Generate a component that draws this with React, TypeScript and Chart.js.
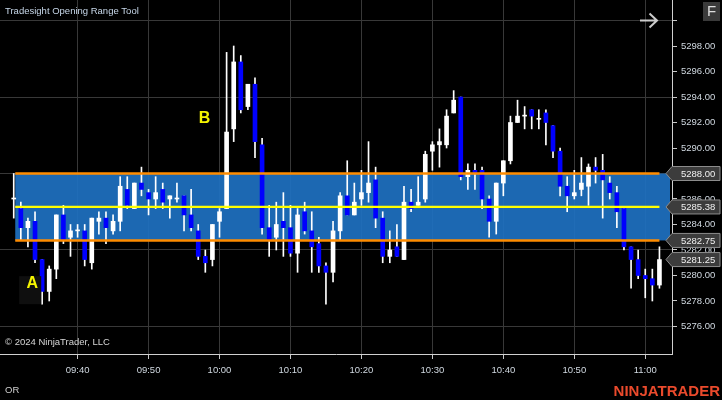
import React, { useEffect, useRef } from 'react';
import { Chart, registerables } from 'chart.js';

Chart.register(...registerables);

// ---- data -------------------------------------------------------------
const times = [
  '09:31', '09:32', '09:33', '09:34', '09:35', '09:36', '09:37', '09:38', '09:39', '09:40',
  '09:41', '09:42', '09:43', '09:44', '09:45', '09:46', '09:47', '09:48', '09:49', '09:50',
  '09:51', '09:52', '09:53', '09:54', '09:55', '09:56', '09:57', '09:58', '09:59', '10:00',
  '10:01', '10:02', '10:03', '10:04', '10:05', '10:06', '10:07', '10:08', '10:09', '10:10',
  '10:11', '10:12', '10:13', '10:14', '10:15', '10:16', '10:17', '10:18', '10:19', '10:20',
  '10:21', '10:22', '10:23', '10:24', '10:25', '10:26', '10:27', '10:28', '10:29', '10:30',
  '10:31', '10:32', '10:33', '10:34', '10:35', '10:36', '10:37', '10:38', '10:39', '10:40',
  '10:41', '10:42', '10:43', '10:44', '10:45', '10:46', '10:47', '10:48', '10:49', '10:50',
  '10:51', '10:52', '10:53', '10:54', '10:55', '10:56', '10:57', '10:58', '10:59', '11:00',
  '11:01', '11:02',
];

const opens = [
  5286, 5285.25, 5283.75, 5284.25, 5281.25, 5278.75, 5280.5, 5284.75, 5283, 5283.5,
  5283.5, 5281, 5284.25, 5284.5, 5283.5, 5284.25, 5286.75, 5285.25, 5287.25, 5286.5,
  5286, 5286.75, 5286, 5286, 5286.25, 5284.75, 5283.5, 5281.5, 5281.25, 5284.25,
  5285.25, 5291.5, 5296.75, 5293.25, 5295, 5290.25, 5283.75, 5283, 5284.25, 5283.75,
  5281.75, 5285, 5283.5, 5282.5, 5280.75, 5280.25, 5283.5, 5286.25, 5284.75, 5286,
  5286.5, 5287.5, 5284.5, 5281.5, 5282.25, 5281.25, 5285.75, 5285.5, 5286, 5289.75,
  5290.25, 5290.25, 5292.75, 5294, 5287.75, 5288.25, 5288.25, 5286, 5284.25, 5287.25,
  5289, 5292, 5292.5, 5293, 5292.25, 5292.75, 5291.75, 5289.75, 5287, 5286.25,
  5286.75, 5287, 5288.5, 5288.25, 5287.25, 5286.5, 5285.25, 5282.25, 5281.25, 5280,
  5279.75, 5279.25,
];
const highs = [
  5288, 5285.75, 5284.5, 5285, 5281.25, 5280.75, 5284.75, 5285.5, 5284, 5284,
  5284, 5284.5, 5285, 5285, 5284.75, 5287.75, 5287.75, 5287.25, 5288.5, 5286.75,
  5287.75, 5287.25, 5286.25, 5287.25, 5286.25, 5286.75, 5284, 5282, 5284, 5285.25,
  5297.5, 5298, 5297.25, 5295, 5295.5, 5290.75, 5285.5, 5285.75, 5286.5, 5285.5,
  5285.25, 5285.75, 5285, 5283, 5281, 5284.25, 5286.5, 5289, 5287.25, 5288.25,
  5290.5, 5288.5, 5285, 5283.5, 5284, 5287, 5286.75, 5287.75, 5289.75, 5290.5,
  5291.5, 5293, 5294.5, 5294, 5288.75, 5288.75, 5288.5, 5286.25, 5287.25, 5289,
  5292.5, 5293.75, 5293.25, 5293, 5293, 5293, 5291.75, 5290, 5287.75, 5288.25,
  5289.25, 5288.75, 5289.25, 5289.5, 5287.75, 5287, 5285.25, 5282.25, 5282, 5280.5,
  5280.5, 5282.25,
];
const lows = [
  5284.5, 5282.75, 5282.25, 5281, 5277.75, 5278, 5279.75, 5282.5, 5281.5, 5283,
  5280.75, 5280.5, 5283.25, 5282.5, 5283.25, 5283.5, 5285.25, 5285.25, 5286.25, 5284.75,
  5285.25, 5285.25, 5284.5, 5285.75, 5283.5, 5283.5, 5281.25, 5280.25, 5280.75, 5283,
  5285.25, 5290.5, 5292.75, 5293, 5289.25, 5283.25, 5281.5, 5282, 5281.5, 5281.5,
  5280.25, 5283.25, 5280.25, 5280.25, 5277.75, 5279.5, 5282.75, 5284.75, 5284.75, 5285.5,
  5285.75, 5283.75, 5281, 5281, 5281.5, 5281.25, 5285, 5285.5, 5285.75, 5288.25,
  5288.5, 5290, 5292.75, 5287.5, 5286.75, 5286.75, 5285.25, 5283, 5283.25, 5286.25,
  5288.75, 5292, 5291.5, 5291.5, 5291.5, 5290.25, 5289.25, 5286.25, 5285, 5286,
  5286.25, 5285.5, 5287.25, 5284.5, 5286, 5283.75, 5282, 5279, 5279.75, 5278.25,
  5278, 5279,
];
const closes = [
  5286, 5283.75, 5284.25, 5281.25, 5278.75, 5280.5, 5284.75, 5282.75, 5283.5, 5283.5,
  5281.25, 5284.5, 5284.5, 5283.75, 5284.25, 5287, 5285.5, 5287.25, 5286.75, 5286,
  5286.5, 5285.75, 5286.25, 5286, 5284.75, 5283.75, 5281.5, 5281, 5284, 5285,
  5291.25, 5296.75, 5293, 5295, 5290.5, 5283.75, 5282.75, 5284, 5283.75, 5281.75,
  5284.75, 5283.5, 5282.25, 5280.75, 5280.25, 5283.5, 5286.25, 5284.75, 5285.75, 5286.5,
  5287.25, 5284.5, 5281.5, 5282, 5281.5, 5285.75, 5285.25, 5285.75, 5289.5, 5290.25,
  5290.5, 5292.5, 5293.75, 5287.75, 5288.25, 5288, 5286, 5284.25, 5287.25, 5289,
  5292, 5292.5, 5292.5, 5292.5, 5292.25, 5292, 5289.75, 5287, 5286.25, 5286.5,
  5287.25, 5288.5, 5288.25, 5287.5, 5286.5, 5285, 5282.25, 5281.25, 5280, 5279.75,
  5279.25, 5281.25,
];

const xTickLabels = ['09:40', '09:50', '10:00', '10:10', '10:20', '10:30', '10:40', '10:50', '11:00'];
const yTicks = [5276, 5278, 5280, 5282, 5284, 5286, 5288, 5290, 5292, 5294, 5296, 5298, 5300];
const yGridValues = [5276, 5282, 5288, 5294, 5300];
const yHiddenLabels = [5300];

const orHigh = 5288;
const orLow = 5282.75;

const annotations = [
  { text: 'A', time: '09:33.6', price: 5279.4, boxed: true },
  { text: 'B', time: '09:57.9', price: 5292.3, boxed: false },
];

// ---- helpers ----------------------------------------------------------
const toMinutes = (t: string) => {
  const [h, m] = t.split(':').map(Number);
  return (h - 9) * 60 + m - 30;
};
const minutes = times.map(toMinutes);
const xTickValues = xTickLabels.map(toMinutes);

const FONT = '"Liberation Sans", Arial, sans-serif';
const BLUE = '#0000ff';
const WHITE = '#ffffff';
const X_MIN = -0.936;
const X_MAX = 93.77;
const Y_MAX = 5301.608;
const Y_MIN = 5273.843;

const candleColors = opens.map((o, i) => (closes[i] < o ? BLUE : WHITE));

const bgPlugin = {
  id: 'bg',
  beforeDraw(chart: any) {
    const { ctx, width, height } = chart;
    ctx.save();
    ctx.fillStyle = '#000';
    ctx.fillRect(0, 0, width, height);
    ctx.restore();
  },
};

const orPlugin = {
  id: 'orBox',
  beforeDatasetsDraw(chart: any) {
    const { ctx, chartArea, scales } = chart;
    const x = scales.x, y = scales.y;
    const x0 = x.getPixelForValue(minutes[0]) + 1.5;
    const yHi = y.getPixelForValue(orHigh);
    const yLo = y.getPixelForValue(orLow);
    ctx.save();
    ctx.fillStyle = 'rgba(30,112,192,0.93)';
    ctx.fillRect(x0, yHi, chartArea.right - 2 - x0, yLo - yHi);
    ctx.restore();
  },
  afterDatasetsDraw(chart: any) {
    const { ctx, scales } = chart;
    const x = scales.x, y = scales.y;
    const x0 = x.getPixelForValue(minutes[0]) + 1.5;
    const x1 = x.getPixelForValue(minutes[minutes.length - 1]);
    const mid = (orHigh + orLow) / 2;
    ctx.save();
    ctx.lineCap = 'butt';
    ctx.strokeStyle = '#ff8c00';
    ctx.lineWidth = 2.5;
    [orHigh, orLow].forEach((v) => {
      const py = y.getPixelForValue(v);
      ctx.beginPath();
      ctx.moveTo(x0, py);
      ctx.lineTo(x1, py);
      ctx.stroke();
    });
    ctx.strokeStyle = '#ffff00';
    ctx.lineWidth = 2.2;
    const pm = y.getPixelForValue(mid);
    ctx.beginPath();
    ctx.moveTo(x0, pm);
    ctx.lineTo(x1, pm);
    ctx.stroke();
    ctx.restore();
  },
};

function drawTag(ctx: any, left: number, right: number, py: number, text: string) {
  const h = 14;
  const tip = 6;
  ctx.beginPath();
  ctx.moveTo(left, py);
  ctx.lineTo(left + tip, py - h / 2);
  ctx.lineTo(right, py - h / 2);
  ctx.lineTo(right, py + h / 2);
  ctx.lineTo(left + tip, py + h / 2);
  ctx.closePath();
  ctx.fillStyle = '#3c3c3c';
  ctx.fill();
  ctx.strokeStyle = '#8c8c8c';
  ctx.lineWidth = 1;
  ctx.stroke();
  ctx.fillStyle = '#f0f0f0';
  ctx.font = `9.5px ${FONT}`;
  ctx.textAlign = 'left';
  ctx.textBaseline = 'middle';
  ctx.fillText(text, left + 15, py + 0.5);
}

const overlayPlugin = {
  id: 'overlay',
  afterDraw(chart: any) {
    const { ctx, chartArea, scales, width } = chart;
    const x = scales.x, y = scales.y;
    ctx.save();

    // annotations A / B
    annotations.forEach((a) => {
      const px = x.getPixelForValue(toMinutes(a.time));
      const py = y.getPixelForValue(a.price);
      if (a.boxed) {
        ctx.fillStyle = '#0f0f0f';
        ctx.fillRect(px - 13, py - 7, 22, 28);
      }
      ctx.fillStyle = '#f5f500';
      ctx.font = `bold 16px ${FONT}`;
      ctx.textAlign = 'center';
      ctx.textBaseline = 'middle';
      ctx.fillText(a.text, px, py);
    });

    // price tags on axis
    const mid = (orHigh + orLow) / 2;
    const tagLeft = chartArea.right - 6;
    const tagRight = width - 2;
    const last = closes[closes.length - 1];
    [orHigh, mid, orLow, last].forEach((v) => {
      drawTag(ctx, tagLeft, tagRight, y.getPixelForValue(v), v.toFixed(2));
    });

    // title
    ctx.textAlign = 'left';
    ctx.textBaseline = 'alphabetic';
    ctx.fillStyle = '#c6d6e8';
    ctx.font = `9.5px ${FONT}`;
    ctx.fillText('Tradesight Opening Range Tool', 5, 14);

    // copyright
    ctx.fillStyle = '#d6d6d6';
    ctx.fillText('\u00a9 2024 NinjaTrader, LLC', 5, 345);

    // OR
    ctx.fillStyle = '#cfcfcf';
    ctx.fillText('OR', 5, 393);

    // logo
    ctx.textAlign = 'right';
    ctx.fillStyle = '#ea4a2c';
    ctx.font = `bold 15px ${FONT}`;
    ctx.fillText('NINJATRADER', 720, 395.5);

    // arrow
    ctx.strokeStyle = '#cccccc';
    ctx.lineWidth = 2;
    ctx.beginPath();
    ctx.moveTo(640, 20.5);
    ctx.lineTo(657, 20.5);
    ctx.moveTo(649.5, 13.5);
    ctx.lineTo(657, 20.5);
    ctx.lineTo(649.5, 27.5);
    ctx.stroke();

    // F button
    ctx.fillStyle = '#3a3a3a';
    ctx.fillRect(703, 2, 17, 19);
    ctx.fillStyle = '#dddddd';
    ctx.font = `15px ${FONT}`;
    ctx.textAlign = 'center';
    ctx.textBaseline = 'middle';
    ctx.fillText('F', 711.5, 12);

    ctx.restore();
  },
};

export default function App() {
  const ref = useRef<HTMLCanvasElement | null>(null);

  useEffect(() => {
    if (!ref.current) return;
    const chart = new Chart(ref.current, {
      type: 'bar',
      data: {
        datasets: [
          {
            label: 'body',
            data: minutes.map((m, i) => ({ x: m, y: [opens[i], closes[i]] })) as any,
            backgroundColor: candleColors,
            borderWidth: 0,
            barThickness: 4,
            minBarLength: 1,
            grouped: false,
          } as any,
          {
            label: 'wick',
            data: minutes.map((m, i) => ({ x: m, y: [lows[i], highs[i]] })) as any,
            backgroundColor: WHITE,
            borderWidth: 0,
            barThickness: 1,
            grouped: false,
          } as any,
        ],
      },
      options: {
        responsive: false,
        animation: false,
        devicePixelRatio: 1,
        events: [],
        layout: { padding: 0 },
        plugins: {
          legend: { display: false },
          tooltip: { enabled: false },
          title: { display: false },
        },
        scales: {
          x: {
            type: 'linear',
            min: X_MIN,
            max: X_MAX,
            offset: false,
            afterBuildTicks: (s: any) => {
              s.ticks = xTickValues.map((v) => ({ value: v }));
            },
            afterFit: (s: any) => {
              s.height = 46;
              s.paddingLeft = 0;
              s.paddingRight = 0;
            },
            grid: {
              color: '#383838',
              offset: false,
              tickLength: 5,
              tickColor: '#c8c8c8',
            },
            border: { color: '#d0d0d0', width: 1 },
            ticks: {
              color: '#d0d8e0',
              font: { family: FONT, size: 9.5 },
              padding: 6,
              maxRotation: 0,
              autoSkip: false,
              callback: (v: any) => {
                const idx = xTickValues.indexOf(Number(v));
                return idx >= 0 ? xTickLabels[idx] : '';
              },
            },
          },
          y: {
            type: 'linear',
            position: 'right',
            min: Y_MIN,
            max: Y_MAX,
            afterBuildTicks: (s: any) => {
              s.ticks = yTicks.map((v) => ({ value: v }));
            },
            afterFit: (s: any) => {
              s.width = 50;
              s.paddingTop = 0;
              s.paddingBottom = 0;
            },
            grid: {
              color: (c: any) =>
                c.tick && yGridValues.includes(c.tick.value) ? '#383838' : 'rgba(0,0,0,0)',
              tickLength: 5,
              tickColor: '#c8c8c8',
            },
            border: { color: '#d0d0d0', width: 1 },
            ticks: {
              color: '#d0d8e0',
              font: { family: FONT, size: 9.5 },
              padding: 4,
              autoSkip: false,
              callback: (v: any) => (yHiddenLabels.includes(Number(v)) ? '' : Number(v).toFixed(2)),
            },
          },
        },
      } as any,
      plugins: [bgPlugin, orPlugin, overlayPlugin],
    });
    return () => chart.destroy();
  }, []);

  return (
    <div style={{ position: 'fixed', left: 0, top: 0, width: 722, height: 400, background: '#000' }}>
      <canvas ref={ref} width={722} height={400} style={{ display: 'block' }} />
    </div>
  );
}
